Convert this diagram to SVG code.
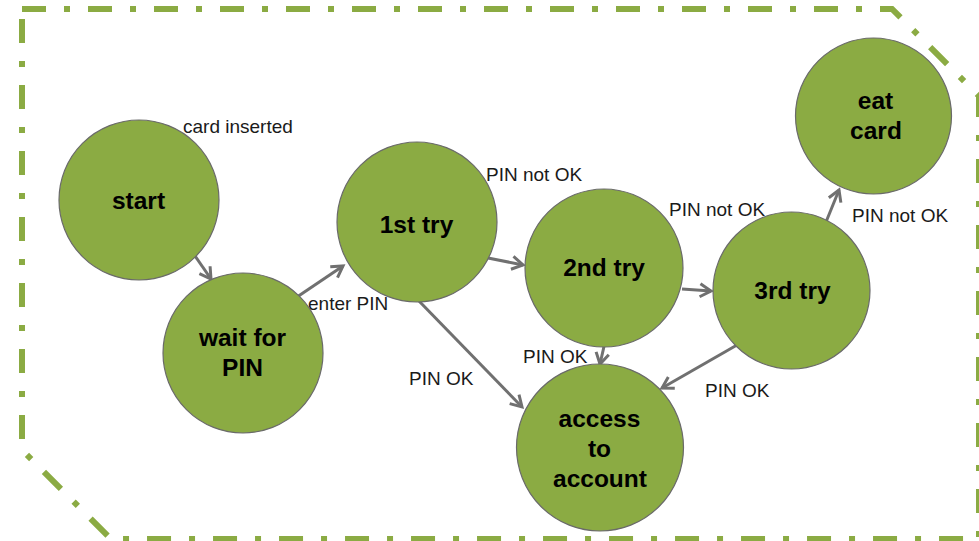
<svg xmlns="http://www.w3.org/2000/svg" width="979" height="541" viewBox="0 0 979 541">
  <style>
    .frame { fill: none; stroke: #8bab43; stroke-width: 6; stroke-dasharray: 24 18 6 18; stroke-linecap: butt; }
    .state circle { fill: #8bab43; stroke: #6a6a6a; stroke-width: 1.2; }
    .state text { font-family: "Liberation Sans", Arial, sans-serif; font-weight: bold; font-size: 24.5px; fill: #000; text-anchor: middle; }
    .edge { fill: none; stroke: #707070; stroke-width: 3; marker-end: url(#arrow); }
    .lbl { font-family: "Liberation Sans", Arial, sans-serif; font-size: 19px; fill: #1a1a1a; }
  </style>
  <defs>
    <marker id="arrow" viewBox="-14 -9 18 18" refX="0" refY="0" markerWidth="18" markerHeight="18" markerUnits="userSpaceOnUse" orient="auto">
      <path d="M-11,-6.5 L0,0 L-11,6.5" fill="none" stroke="#707070" stroke-width="3" stroke-linejoin="miter"/>
    </marker>
  </defs>
  <rect width="979" height="541" fill="#fff"/>

  <!-- dash-dot boundary with cut corners -->
  <g id="boundary">
    <path class="frame" d="M22,9 H892 L979,96 V539 H111"/>
    <path class="frame" d="M22,9 V450 L111,539" stroke-dashoffset="56"/>
  </g>

  <!-- transitions -->
  <g id="connectors">
    <line class="edge" x1="193" y1="253" x2="211" y2="279"/>
    <line class="edge" x1="297" y1="297" x2="343" y2="266"/>
    <line class="edge" x1="488" y1="258" x2="523" y2="265"/>
    <line class="edge" x1="682" y1="289" x2="711" y2="291"/>
    <line class="edge" x1="826" y1="222" x2="839" y2="190"/>
    <line class="edge" x1="418" y1="300" x2="522" y2="407"/>
    <line class="edge" x1="605" y1="342" x2="600" y2="364"/>
    <line class="edge" x1="737" y1="345" x2="662" y2="388"/>
    <text class="lbl" x="183" y="133">card inserted</text>
    <text class="lbl" x="308" y="310">enter PIN</text>
    <text class="lbl" x="486" y="181">PIN not OK</text>
    <text class="lbl" x="669" y="216">PIN not OK</text>
    <text class="lbl" x="852" y="222">PIN not OK</text>
    <text class="lbl" x="409" y="385">PIN OK</text>
    <text class="lbl" x="523" y="363">PIN OK</text>
    <text class="lbl" x="705" y="397">PIN OK</text>
  </g>

  <g id="start" class="state">
    <circle cx="139" cy="200" r="80"/>
    <text x="138.5" y="209">start</text>
  </g>
  <g id="wait-for-pin" class="state">
    <circle cx="243" cy="353" r="80"/>
    <text x="242.5" y="346">wait for</text>
    <text x="242.5" y="376">PIN</text>
  </g>
  <g id="try-1" class="state">
    <circle cx="417" cy="222" r="80"/>
    <text x="416.5" y="232.5">1st try</text>
  </g>
  <g id="try-2" class="state">
    <circle cx="604" cy="268" r="79"/>
    <text x="604" y="275.5">2nd try</text>
  </g>
  <g id="try-3" class="state">
    <circle cx="791.5" cy="290.5" r="78.5"/>
    <text x="792.5" y="299">3rd try</text>
  </g>
  <g id="eat-card" class="state">
    <circle cx="873.5" cy="116" r="78"/>
    <text x="875.5" y="109">eat</text>
    <text x="876" y="139">card</text>
  </g>
  <g id="access-to-account" class="state">
    <circle cx="600" cy="447.5" r="83.5"/>
    <text x="599.5" y="427">access</text>
    <text x="599.5" y="457">to</text>
    <text x="600" y="487">account</text>
  </g>
</svg>
